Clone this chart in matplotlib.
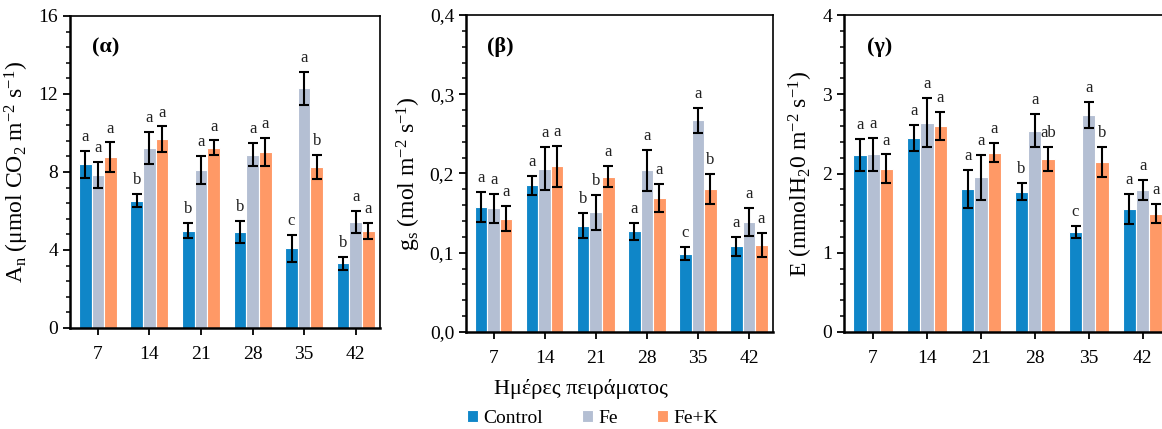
import matplotlib
matplotlib.use("Agg")
import matplotlib.pyplot as plt
from matplotlib.ticker import MultipleLocator, FuncFormatter
import numpy as np

days = ["7", "14", "21", "28", "35", "42"]
series_names = ["Control", "Fe", "Fe+K"]
colors = ["#0F86C8", "#B4BFD3", "#FF9966"]

# Panel (α) A_n
an_ctrl = [8.39, 6.53, 4.99, 4.94, 4.09, 3.32]
an_fe = [7.85, 9.25, 8.10, 8.89, 12.29, 5.44]
an_fek = [8.75, 9.69, 9.25, 9.03, 8.26, 4.99]
an_ctrl_err = [0.70, 0.33, 0.38, 0.56, 0.68, 0.32]
an_fe_err = [0.65, 0.82, 0.72, 0.58, 0.83, 0.58]
an_fek_err = [0.77, 0.65, 0.37, 0.70, 0.60, 0.41]
an_ctrl_let = ["a", "b", "b", "b", "c", "b"]
an_fe_let = ["a", "a", "a", "a", "a", "a"]
an_fek_let = ["a", "a", "a", "a", "b", "a"]

# Panel (β) g_s
gs_ctrl = [0.158, 0.185, 0.134, 0.127, 0.099, 0.108]
gs_fe = [0.156, 0.206, 0.151, 0.204, 0.267, 0.139]
gs_fek = [0.143, 0.209, 0.196, 0.169, 0.180, 0.110]
gs_ctrl_err = [0.019, 0.012, 0.016, 0.011, 0.008, 0.012]
gs_fe_err = [0.018, 0.027, 0.022, 0.026, 0.016, 0.018]
gs_fek_err = [0.016, 0.026, 0.013, 0.018, 0.019, 0.015]
gs_ctrl_let = ["a", "a", "b", "a", "c", "a"]
gs_fe_let = ["a", "a", "b", "a", "a", "a"]
gs_fek_let = ["a", "a", "a", "a", "b", "a"]

# Panel (γ) E
e_ctrl = [2.23, 2.45, 1.81, 1.77, 1.26, 1.55]
e_fe = [2.24, 2.64, 1.95, 2.54, 2.74, 1.79]
e_fek = [2.06, 2.60, 2.26, 2.18, 2.15, 1.49]
e_ctrl_err = [0.20, 0.16, 0.24, 0.11, 0.08, 0.19]
e_fe_err = [0.21, 0.31, 0.28, 0.21, 0.16, 0.13]
e_fek_err = [0.18, 0.18, 0.12, 0.15, 0.19, 0.12]
e_ctrl_let = ["a", "a", "a", "b", "c", "a"]
e_fe_let = ["a", "a", "a", "a", "a", "a"]
e_fek_let = ["a", "a", "a", "ab", "b", "a"]

FAM = ["Liberation Serif", "DejaVu Serif"]
plt.rcParams['font.family'] = FAM
plt.rcParams['mathtext.fontset'] = 'custom'
plt.rcParams['mathtext.rm'] = 'Liberation Serif'
plt.rcParams['mathtext.it'] = 'Liberation Serif:italic'
plt.rcParams['mathtext.bf'] = 'Liberation Serif:bold'

fig = plt.figure(figsize=(11.62, 4.29), dpi=100)
W, H = 1162, 429

def axrect(l, r, t, b):
    return [l / W, 1 - b / H, (r - l) / W, (b - t) / H]

panels = [
    dict(rect=axrect(70, 380, 16, 328), vals=[an_ctrl, an_fe, an_fek],
         errs=[an_ctrl_err, an_fe_err, an_fek_err],
         lets=[an_ctrl_let, an_fe_let, an_fek_let],
         ymax=16, major=4, minor=0.8, dec=0, off=0.3,
         ylabel=r"A$_\mathrm{n}$ ($\mathrm{\mu}$mol CO$_2$ m$^{-2}$ s$^{-1}$)",
         tag="(α)"),
    dict(rect=axrect(466, 773, 15, 332), vals=[gs_ctrl, gs_fe, gs_fek],
         errs=[gs_ctrl_err, gs_fe_err, gs_fek_err],
         lets=[gs_ctrl_let, gs_fe_let, gs_fek_let],
         ymax=0.4, major=0.1, minor=0.02, dec=1, off=0.0075,
         ylabel=r"g$_\mathrm{s}$ (mol m$^{-2}$ s$^{-1}$)",
         tag="(β)"),
    dict(rect=axrect(844, 1168, 15, 332), vals=[e_ctrl, e_fe, e_fek],
         errs=[e_ctrl_err, e_fe_err, e_fek_err],
         lets=[e_ctrl_let, e_fe_let, e_fek_let],
         ymax=4, major=1, minor=0.2, dec=0, off=0.075,
         ylabel=r"E (mmolH$_2$0 m$^{-2}$ s$^{-1}$)",
         tag="(γ)"),
]

x = np.arange(len(days))
bw = 0.245
handles = []
for p in panels:
    ax = fig.add_axes(p["rect"])
    for i in range(3):
        xs = x + (i - 1) * bw
        b = ax.bar(xs, p["vals"][i], width=bw, color=colors[i],
                   edgecolor="white", linewidth=0.8, label=series_names[i], zorder=2)
        if len(handles) < 3:
            handles.append(b)
        ax.errorbar(xs, p["vals"][i], yerr=p["errs"][i], fmt="none",
                    ecolor="black", elinewidth=1.5, capsize=3.5, capthick=1.5, zorder=3)
        for xi, v, e, l in zip(xs, p["vals"][i], p["errs"][i], p["lets"][i]):
            ax.text(xi, v + e + p["off"], l, ha="center", va="bottom",
                    fontsize=12, color="#222222", family=FAM)
    ax.set_xlim(-0.54, 5.47)
    ax.set_ylim(0, p["ymax"])
    ax.set_xticks(x)
    ax.set_xticklabels(days, fontsize=14, family=FAM)
    ax.yaxis.set_major_locator(MultipleLocator(p["major"]))
    ax.yaxis.set_minor_locator(MultipleLocator(p["minor"]))
    dec = p["dec"]
    ax.yaxis.set_major_formatter(FuncFormatter(
        lambda v, pos, d=dec: (f"{v:.{d}f}").replace(".", ",")))
    for lab in ax.get_yticklabels():
        lab.set_family(FAM)
    ax.tick_params(axis="y", which="major", labelsize=14, length=5, width=1.3, direction="out")
    ax.tick_params(axis="y", which="minor", length=3, width=1.1, direction="out")
    ax.tick_params(axis="x", which="major", length=5, width=1.3, direction="out", pad=8)
    ax.tick_params(axis="x", which="minor", bottom=False)
    for s in ["left", "bottom"]:
        ax.spines[s].set_linewidth(1.8)
    for s in ["top", "right"]:
        ax.spines[s].set_linewidth(1.2)
    ax.set_ylabel(p["ylabel"], fontsize=17, labelpad=5, family=FAM)
    ax.text(0.07, 0.93, p["tag"], transform=ax.transAxes, fontsize=16,
            fontweight="bold", ha="left", va="top", family=FAM)

fig.text(0.5, 0.093, "Ημέρες πειράματος", ha="center", va="center", fontsize=16, family=FAM)
fig.legend(handles, series_names, loc="center", bbox_to_anchor=(0.51, 0.025),
           ncol=3, frameon=False, prop={"family": FAM, "size": 14},
           handlelength=0.55, handleheight=0.55,
           handletextpad=0.3, columnspacing=2.0, borderpad=0.1)

fig.savefig("out.png", dpi=100)
